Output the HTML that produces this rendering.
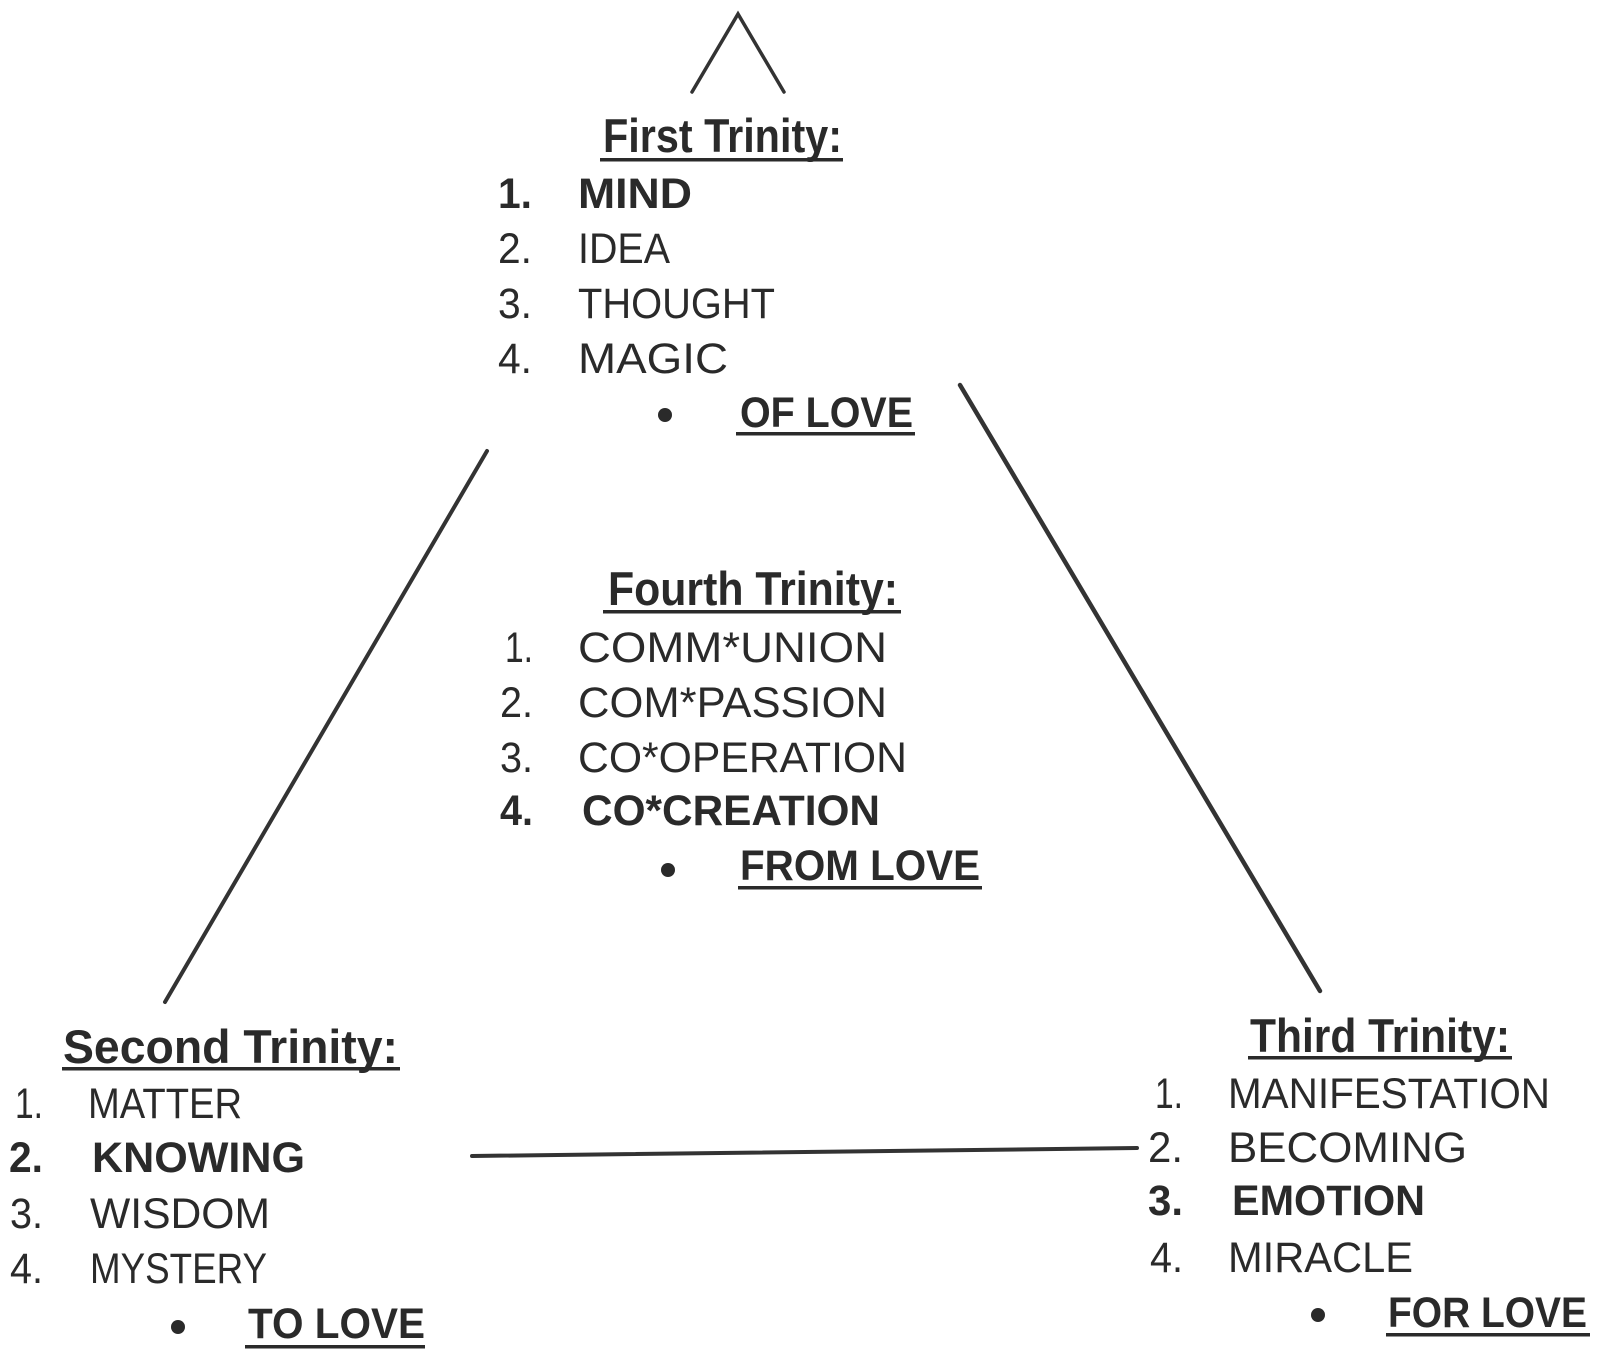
<!DOCTYPE html>
<html>
<head>
<meta charset="utf-8">
<style>
html,body{margin:0;padding:0;background:#fff;}
svg{display:block;}
text{font-family:"Liberation Sans",Arial,sans-serif;fill:#2a2a2a;}
.r{font-size:43px;font-weight:normal;}
.b{font-size:43px;font-weight:bold;}
.h{font-size:47px;font-weight:bold;}
</style>
</head>
<body>
<svg width="1601" height="1359" viewBox="0 0 1601 1359" xmlns="http://www.w3.org/2000/svg">
<rect width="1601" height="1359" fill="#fff"/>

<!-- connectors -->
<g stroke="#333" stroke-linecap="round" fill="none">
  <polyline points="692,92 738,14 784,92" stroke-width="3.5"/>
  <line x1="487" y1="451" x2="165" y2="1002" stroke-width="4"/>
  <line x1="960" y1="385" x2="1320" y2="991" stroke-width="4.5"/>
  <line x1="472" y1="1156" x2="1137" y2="1148" stroke-width="4"/>
</g>

<!-- underlines -->
<g fill="#2a2a2a">
  <rect x="600" y="158" width="243" height="3.5"/>
  <rect x="736" y="432" width="179" height="3.5"/>
  <rect x="603" y="610" width="298" height="3.5"/>
  <rect x="738" y="886" width="244" height="3.5"/>
  <rect x="62" y="1067" width="338" height="3.5"/>
  <rect x="245" y="1345" width="180" height="3.5"/>
  <rect x="1248" y="1056" width="264" height="3.5"/>
  <rect x="1386" y="1333" width="204" height="3.5"/>
  <circle cx="665" cy="415" r="7"/>
  <circle cx="668" cy="870" r="7"/>
  <circle cx="178" cy="1327" r="7"/>
  <circle cx="1318" cy="1315" r="7"/>
</g>

<!-- First Trinity -->
<text class="h" x="603" y="152" textLength="239" lengthAdjust="spacingAndGlyphs">First Trinity:</text>
<text class="b" x="498" y="208" textLength="34" lengthAdjust="spacingAndGlyphs">1.</text>
<text class="b" x="578" y="208" textLength="114" lengthAdjust="spacingAndGlyphs">MIND</text>
<text class="r" x="498" y="263" textLength="34" lengthAdjust="spacingAndGlyphs">2.</text>
<text class="r" x="578" y="263" textLength="92" lengthAdjust="spacingAndGlyphs">IDEA</text>
<text class="r" x="498" y="318" textLength="34" lengthAdjust="spacingAndGlyphs">3.</text>
<text class="r" x="578" y="318" textLength="197" lengthAdjust="spacingAndGlyphs">THOUGHT</text>
<text class="r" x="498" y="373" textLength="34" lengthAdjust="spacingAndGlyphs">4.</text>
<text class="r" x="578" y="373" textLength="150" lengthAdjust="spacingAndGlyphs">MAGIC</text>
<text class="b" x="740" y="427" textLength="173" lengthAdjust="spacingAndGlyphs">OF LOVE</text>

<!-- Fourth Trinity -->
<text class="h" x="608" y="605" textLength="290" lengthAdjust="spacingAndGlyphs">Fourth Trinity:</text>
<text class="r" x="505" y="662" textLength="28" lengthAdjust="spacingAndGlyphs">1.</text>
<text class="r" x="578" y="662" textLength="309" lengthAdjust="spacingAndGlyphs">COMM*UNION</text>
<text class="r" x="500" y="717" textLength="33" lengthAdjust="spacingAndGlyphs">2.</text>
<text class="r" x="578" y="717" textLength="309" lengthAdjust="spacingAndGlyphs">COM*PASSION</text>
<text class="r" x="500" y="772" textLength="33" lengthAdjust="spacingAndGlyphs">3.</text>
<text class="r" x="578" y="772" textLength="329" lengthAdjust="spacingAndGlyphs">CO*OPERATION</text>
<text class="b" x="500" y="825" textLength="33" lengthAdjust="spacingAndGlyphs">4.</text>
<text class="b" x="582" y="825" textLength="298" lengthAdjust="spacingAndGlyphs">CO*CREATION</text>
<text class="b" x="740" y="880" textLength="240" lengthAdjust="spacingAndGlyphs">FROM LOVE</text>

<!-- Second Trinity -->
<text class="h" x="63" y="1063" textLength="335" lengthAdjust="spacingAndGlyphs">Second Trinity:</text>
<text class="r" x="15" y="1118" textLength="28" lengthAdjust="spacingAndGlyphs">1.</text>
<text class="r" x="88" y="1118" textLength="154" lengthAdjust="spacingAndGlyphs">MATTER</text>
<text class="b" x="9" y="1172" textLength="34" lengthAdjust="spacingAndGlyphs">2.</text>
<text class="b" x="92" y="1172" textLength="213" lengthAdjust="spacingAndGlyphs">KNOWING</text>
<text class="r" x="10" y="1228" textLength="33" lengthAdjust="spacingAndGlyphs">3.</text>
<text class="r" x="90" y="1228" textLength="180" lengthAdjust="spacingAndGlyphs">WISDOM</text>
<text class="r" x="10" y="1283" textLength="33" lengthAdjust="spacingAndGlyphs">4.</text>
<text class="r" x="90" y="1283" textLength="177" lengthAdjust="spacingAndGlyphs">MYSTERY</text>
<text class="b" x="248" y="1338" textLength="177" lengthAdjust="spacingAndGlyphs">TO LOVE</text>

<!-- Third Trinity -->
<text class="h" x="1250" y="1052" textLength="260" lengthAdjust="spacingAndGlyphs">Third Trinity:</text>
<text class="r" x="1155" y="1108" textLength="28" lengthAdjust="spacingAndGlyphs">1.</text>
<text class="r" x="1228" y="1108" textLength="322" lengthAdjust="spacingAndGlyphs">MANIFESTATION</text>
<text class="r" x="1148" y="1162" textLength="35" lengthAdjust="spacingAndGlyphs">2.</text>
<text class="r" x="1228" y="1162" textLength="239" lengthAdjust="spacingAndGlyphs">BECOMING</text>
<text class="b" x="1148" y="1215" textLength="35" lengthAdjust="spacingAndGlyphs">3.</text>
<text class="b" x="1232" y="1215" textLength="193" lengthAdjust="spacingAndGlyphs">EMOTION</text>
<text class="r" x="1150" y="1272" textLength="33" lengthAdjust="spacingAndGlyphs">4.</text>
<text class="r" x="1228" y="1272" textLength="185" lengthAdjust="spacingAndGlyphs">MIRACLE</text>
<text class="b" x="1388" y="1327" textLength="199" lengthAdjust="spacingAndGlyphs">FOR LOVE</text>
</svg>
</body>
</html>
